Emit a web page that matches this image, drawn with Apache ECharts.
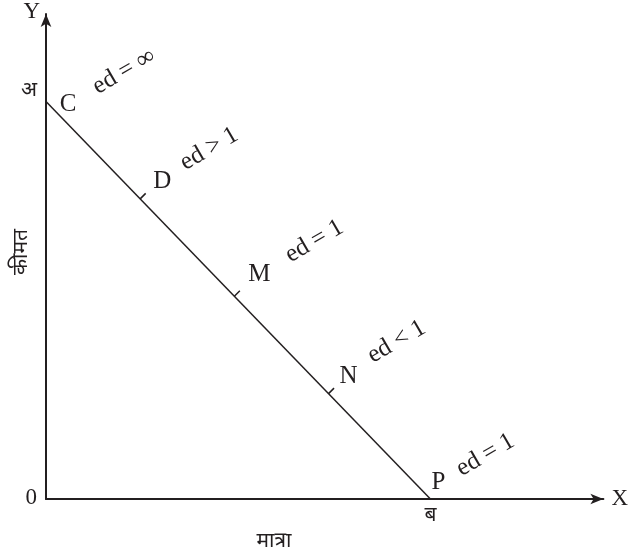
<!DOCTYPE html>
<html>
<head>
<meta charset="utf-8">
<script src="https://cdn.jsdelivr.net/npm/echarts@6/dist/echarts.min.js"></script>
<style>
  html, body { margin: 0; padding: 0; background: #fff; }
  #chart { width: 631px; height: 558px; }
</style>
</head>
<body>
<div id="chart"></div>
<script>
// demand line end points (quantity, price)
const lineQty = [0, 100];
const linePrice = [100, 0];

// labelled points on the demand curve
const pointNames = ['C', 'D', 'M', 'N', 'P'];
const pointQty = [0, 24.5, 49, 73.5, 100];
const pointPrice = [100, 75.5, 51, 26.5, 0];
const pointEd = ['ed = ∞', 'ed > 1', 'ed = 1', 'ed < 1', 'ed = 1'];
const pointHasTick = [false, true, true, true, false];

// axis tick labels
const yTickValues = [0, 100];
const yTickLabels = ['0', 'अ'];
const xTickValues = [100];
const xTickLabels = ['ब'];

// label placement (pixels, relative to the point)
const letterOffset = [[22, 3], [22, -17], [25, -22], [20, -17], [8, -17]];
const edOffset = [[78, -30], [69, -50], [80, -55], [68, -52], [55, -44]];

const ink = '#231f20';
const serif = '"Liberation Serif", "DejaVu Serif", serif';
const deva = '"Noto Sans", "DejaVu Sans", sans-serif';

const chart = echarts.init(document.getElementById('chart'));

const lineData = lineQty.map((q, i) => [q, linePrice[i]]);
const pointData = pointNames.map((n, i) => [pointQty[i], pointPrice[i], i]);

chart.setOption({
  animation: false,
  grid: { left: 46, right: 24, top: 14, bottom: 59, containLabel: false },
  xAxis: {
    type: 'value', min: 0, max: 145, interval: 100,
    splitLine: { show: false },
    axisTick: { show: false },
    axisLine: { show: true, lineStyle: { color: ink, width: 2 },
      symbol: ['none', 'arrow'], symbolSize: [8, 13], symbolOffset: [0, 0] },
    axisLabel: {
      color: ink, fontFamily: deva, fontSize: 21, margin: 6, showMaxLabel: false,
      formatter: v => { const k = xTickValues.indexOf(v); return k >= 0 ? xTickLabels[k] : ''; }
    },
    name: 'X', nameLocation: 'end', nameGap: 8,
    nameTextStyle: { color: ink, fontFamily: serif, fontSize: 23, verticalAlign: 'middle' }
  },
  yAxis: {
    type: 'value', min: 0, max: 122, interval: 100,
    splitLine: { show: false },
    axisTick: { show: false },
    axisLine: { show: true, lineStyle: { color: ink, width: 2 },
      symbol: ['none', 'arrow'], symbolSize: [8, 13] },
    axisLabel: {
      color: ink, margin: 9, showMaxLabel: false,
      formatter: v => {
        const k = yTickValues.indexOf(v);
        if (k < 0) return '';
        return v === 0 ? '{n|' + yTickLabels[k] + '}' : '{d|' + yTickLabels[k] + '}';
      },
      rich: {
        n: { fontFamily: serif, fontSize: 23, color: ink, padding: [0, 0, 2, 0] },
        d: { fontFamily: deva, fontSize: 21, color: ink, padding: [0, 0, 22, 0] }
      }
    },
    name: 'Y', nameLocation: 'end', nameGap: 2,
    nameTextStyle: { color: ink, fontFamily: serif, fontSize: 23, align: 'right',
      verticalAlign: 'middle', padding: [0, 6, 0, 0] }
  },
  graphic: [
    { type: 'text', x: 274, y: 541,
      style: { text: 'मात्रा', font: '21px ' + deva, fill: ink, align: 'center', verticalAlign: 'middle' } },
    { type: 'text', x: 21, y: 252, rotation: Math.PI / 2,
      style: { text: 'कीमत', font: '21px ' + deva, fill: ink, align: 'center', verticalAlign: 'middle' } }
  ],
  series: [
    {
      type: 'line',
      data: lineData,
      symbol: 'none',
      lineStyle: { color: ink, width: 1.5 },
      z: 3
    },
    {
      type: 'custom',
      data: pointData,
      z: 4,
      renderItem: (params, api) => {
        const i = api.value(2);
        const p = api.coord([api.value(0), api.value(1)]);
        const children = [];
        if (pointHasTick[i]) {
          children.push({
            type: 'line',
            shape: { x1: p[0], y1: p[1], x2: p[0] + 5.5, y2: p[1] - 5.5 },
            style: { stroke: ink, lineWidth: 1.5 }
          });
        }
        children.push({
          type: 'text',
          x: p[0] + letterOffset[i][0], y: p[1] + letterOffset[i][1],
          style: { text: pointNames[i], font: '25px ' + serif, fill: ink,
            align: 'center', verticalAlign: 'middle' }
        });
        children.push({
          type: 'text',
          x: p[0] + edOffset[i][0], y: p[1] + edOffset[i][1],
          rotation: Math.PI / 6,
          style: { text: pointEd[i], font: '25px ' + serif, fill: ink,
            align: 'center', verticalAlign: 'middle' }
        });
        return { type: 'group', children: children };
      }
    }
  ]
});
</script>
</body>
</html>
